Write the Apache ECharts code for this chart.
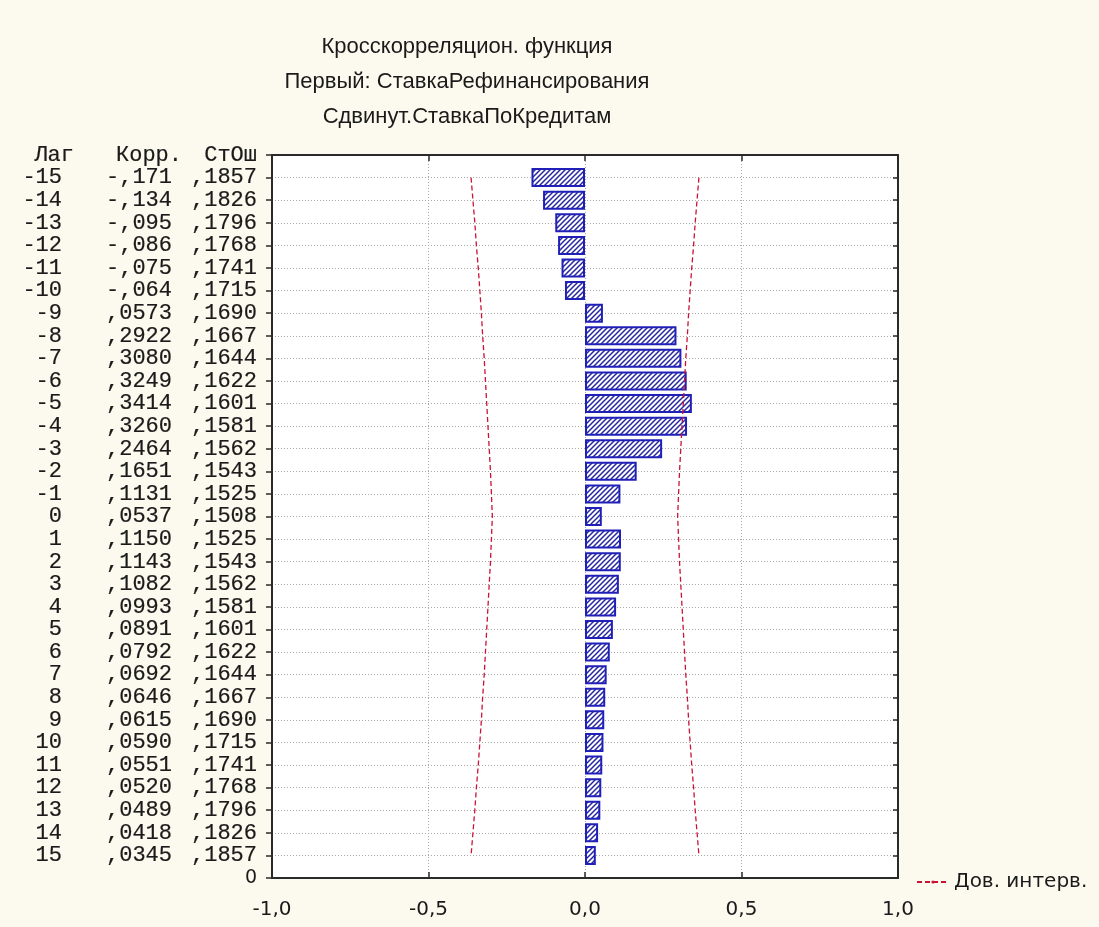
<!DOCTYPE html>
<html>
<head>
<meta charset="utf-8">
<script src="https://cdn.jsdelivr.net/npm/echarts@6/dist/echarts.min.js"></script>
<style>
html,body{margin:0;padding:0;background:#fcfaee;}
#chart{width:1099px;height:927px;}
</style>
</head>
<body>
<div id="chart"></div>
<script>
// ---- data ----
const lags = [-15,-14,-13,-12,-11,-10,-9,-8,-7,-6,-5,-4,-3,-2,-1,0,1,2,3,4,5,6,7,8,9,10,11,12,13,14,15];
const corr = [-0.171,-0.134,-0.095,-0.086,-0.075,-0.064,0.0573,0.2922,0.3080,0.3249,0.3414,0.3260,0.2464,0.1651,0.1131,0.0537,
              0.1150,0.1143,0.1082,0.0993,0.0891,0.0792,0.0692,0.0646,0.0615,0.0590,0.0551,0.0520,0.0489,0.0418,0.0345];
const corrLabels = ['-,171','-,134','-,095','-,086','-,075','-,064',',0573',',2922',',3080',',3249',',3414',',3260',',2464',',1651',',1131',',0537',
                    ',1150',',1143',',1082',',0993',',0891',',0792',',0692',',0646',',0615',',0590',',0551',',0520',',0489',',0418',',0345'];
const seLabels = [',1857',',1826',',1796',',1768',',1741',',1715',',1690',',1667',',1644',',1622',',1601',',1581',',1562',',1543',',1525',',1508',
                  ',1525',',1543',',1562',',1581',',1601',',1622',',1644',',1667',',1690',',1715',',1741',',1768',',1796',',1826',',1857'];
const ciUpper = [0.364,0.358,0.352,0.347,0.341,0.336,0.331,0.327,0.322,0.318,0.314,0.310,0.306,0.302,0.299,0.296,
                 0.299,0.302,0.306,0.310,0.314,0.318,0.322,0.327,0.331,0.336,0.341,0.347,0.352,0.358,0.364];
const ciLower = [-0.364,-0.358,-0.352,-0.347,-0.341,-0.336,-0.331,-0.327,-0.322,-0.318,-0.314,-0.310,-0.306,-0.302,-0.299,-0.296,
                 -0.299,-0.302,-0.306,-0.310,-0.314,-0.318,-0.322,-0.327,-0.331,-0.336,-0.341,-0.347,-0.352,-0.358,-0.364];
const xTicks = [-1, -0.5, 0, 0.5, 1];
const titleLines = ['Кросскорреляцион. функция', 'Первый: СтавкаРефинансирования', 'Сдвинут.СтавкаПоКредитам'];
const header = ['Лаг', 'Корр.', 'СтОш'];
const legendName = 'Дов. интерв.';

// y categories: bottom '0' slot, lags 15..-15, top header slot
const yCats = ['base'].concat(lags.slice().reverse().map(String)).concat(['head']);
const rowInfo = {};
lags.forEach((l, i) => { rowInfo[String(l)] = [String(l), corrLabels[i], seLabels[i]]; });

// hatch pattern
const pc = document.createElement('canvas');
pc.width = 5; pc.height = 5;
const g = pc.getContext('2d');
g.fillStyle = '#ffffff'; g.fillRect(0, 0, 5, 5);
g.strokeStyle = '#2626a0'; g.lineWidth = 1.5;
g.beginPath();
g.moveTo(-1, 6); g.lineTo(6, -1);
g.moveTo(-1, 1); g.lineTo(1, -1);
g.moveTo(4, 6); g.lineTo(6, 4);
g.stroke();

const chart = echarts.init(document.getElementById('chart'), null, {renderer: 'canvas'});
const mono = {fontFamily: 'Liberation Mono', fontSize: 22, color: '#1a1a1a', textBorderColor: '#1a1a1a', textBorderWidth: 0.2};
const monoRich = {
  a: Object.assign({width: 60, align: 'right'}, mono),
  b: Object.assign({width: 110, align: 'right'}, mono),
  c: Object.assign({width: 85, align: 'right'}, mono),
  ha: Object.assign({width: 70, align: 'right'}, mono),
  hb: Object.assign({width: 108, align: 'right'}, mono),
  hc: Object.assign({width: 75, align: 'right'}, mono),
  z: {align: 'right', fontFamily: 'DejaVu Sans', fontSize: 19, color: '#1a1a1a'}
};
const frame = {show: true, onZero: false, lineStyle: {color: '#2a2a2a', width: 2}};

chart.setOption({
  backgroundColor: '#fcfaee',
  animation: false,
  title: {
    text: titleLines.join('\n'),
    left: 467, top: 29, textAlign: 'center', padding: 0,
    textStyle: {fontFamily: 'Liberation Sans', fontSize: 22, fontWeight: 'normal', color: '#1a1a1a', lineHeight: 35}
  },
  legend: {
    data: [legendName],
    left: 911, top: 867,
    itemWidth: 32, itemHeight: 4, itemGap: 10,
    textStyle: {fontFamily: 'DejaVu Sans', fontSize: 20, color: '#1a1a1a'}
  },
  grid: {left: 272, right: 201, top: 155, bottom: 49, show: true, backgroundColor: '#ffffff', borderWidth: 0},
  xAxis: [{
    type: 'value', position: 'bottom', min: -1, max: 1, interval: 0.5,
    axisLine: frame,
    axisTick: {show: true, inside: true, length: 6, lineStyle: {color: '#2a2a2a', width: 1.5}},
    axisLabel: {margin: 22, fontFamily: 'DejaVu Sans', fontSize: 20, color: '#1a1a1a',
      formatter: v => (xTicks.indexOf(v) >= 0 ? v.toFixed(1).replace('.', ',') : '')},
    splitLine: {show: true, lineStyle: {color: '#a8a8a8', type: [1, 2], width: 1}}
  }, {
    type: 'value', position: 'top', min: -1, max: 1, interval: 0.5,
    axisLine: frame,
    axisTick: {show: true, inside: true, length: 6, lineStyle: {color: '#2a2a2a', width: 1.5}},
    axisLabel: {show: false}, splitLine: {show: false}
  }],
  yAxis: [{
    type: 'category', data: yCats, boundaryGap: false, position: 'left',
    axisLine: frame,
    axisTick: {show: true, inside: false, length: 6, interval: 0, lineStyle: {color: '#2a2a2a', width: 1.5}},
    axisLabel: {
      interval: 0, margin: 15, rich: monoRich,
      formatter: (v) => {
        if (v === 'base') return '{z|0}';
        if (v === 'head') return '{ha|' + header[0] + '}{hb|' + header[1] + '}{hc|' + header[2] + '}';
        const r = rowInfo[v];
        return '{a|' + r[0] + '}{b|' + r[1] + '}{c|' + r[2] + '}';
      }
    },
    splitLine: {show: true, interval: 0, lineStyle: {color: '#a8a8a8', type: [1, 2], width: 1}}
  }, {
    type: 'category', data: yCats, boundaryGap: false, position: 'right',
    axisLine: frame,
    axisTick: {show: true, inside: true, length: 5, interval: 0, lineStyle: {color: '#2a2a2a', width: 1.5}},
    axisLabel: {show: false}, splitLine: {show: false}
  }],
  series: [{
    type: 'bar', name: 'Корр.', xAxisIndex: 0, yAxisIndex: 0,
    barWidth: 19,
    data: lags.map((l, i) => [corr[i], String(l)]),
    itemStyle: {color: {image: pc, repeat: 'repeat'}, borderColor: '#2020b8', borderWidth: 2}
  }, {
    type: 'line', name: legendName, xAxisIndex: 0, yAxisIndex: 0,
    symbol: 'none',
    data: lags.map((l, i) => [ciUpper[i], String(l)]),
    lineStyle: {color: '#cc1133', width: 1.3, type: [5, 3]},
    itemStyle: {color: '#cc1133'}
  }, {
    type: 'line', name: legendName, xAxisIndex: 0, yAxisIndex: 0,
    symbol: 'none',
    data: lags.map((l, i) => [ciLower[i], String(l)]),
    lineStyle: {color: '#cc1133', width: 1.3, type: [5, 3]},
    itemStyle: {color: '#cc1133'}
  }]
});
</script>
</body>
</html>
